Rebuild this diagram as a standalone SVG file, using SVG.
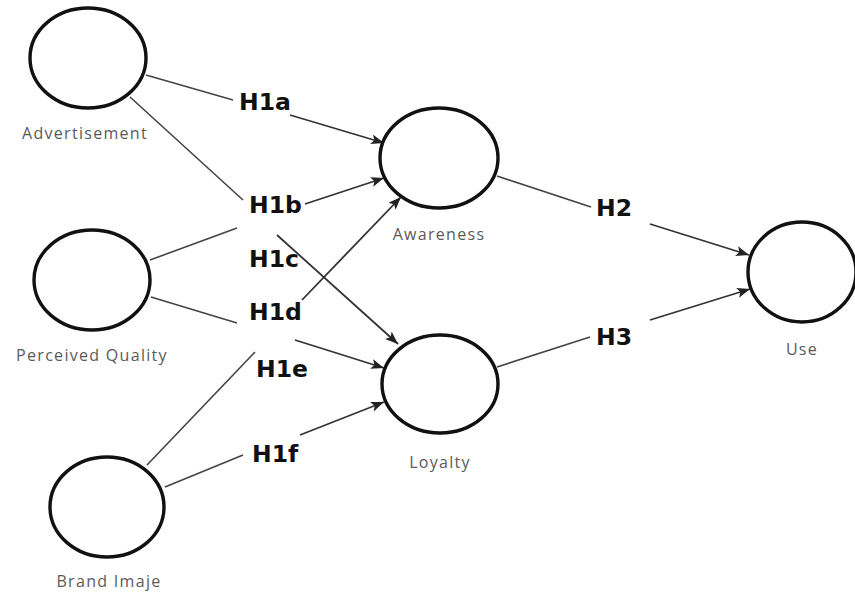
<svg xmlns="http://www.w3.org/2000/svg" width="855" height="594" viewBox="0 0 855 594">
<defs>
<style>
.node{fill:#fff;stroke:#111;stroke-width:3.4}
.lbl{font-family:"Open Sans","Noto Sans",sans-serif;font-size:16px;fill:#5a5a5a;text-anchor:middle;letter-spacing:1.3px}
.h{font-family:"DejaVu Sans",sans-serif;font-weight:bold;font-size:23.5px;fill:#111}
.ln{stroke:#444;stroke-width:1.6;fill:none}
.ar{stroke:#333;stroke-width:1.8;fill:none;marker-end:url(#ah)}
</style>
<marker id="ah" markerUnits="userSpaceOnUse" markerWidth="14" markerHeight="12" refX="13" refY="5" orient="auto">
<path d="M0,0 L13,5 L0,10 L3,5 z" fill="#222"/>
</marker>
</defs>
<rect width="855" height="594" fill="#fff"/>
<g id="connectors">
<line class="ln" x1="146" y1="75" x2="233" y2="100"/>
<line class="ar" x1="290" y1="115" x2="384" y2="143"/>
<line class="ln" x1="130" y1="97" x2="243" y2="200"/>
<line class="ar" x1="305" y1="204" x2="384" y2="178"/>
<line class="ln" x1="150" y1="260" x2="237" y2="228"/>
<line class="ar" x1="302" y1="300" x2="401" y2="197"/>
<line class="ar" x1="277" y1="235" x2="398" y2="344"/>
<line class="ln" x1="151" y1="297" x2="237" y2="323"/>
<line class="ar" x1="295" y1="340" x2="384" y2="368"/>
<line class="ln" x1="147" y1="465" x2="255" y2="352"/>
<line class="ln" x1="165" y1="487" x2="243" y2="455"/>
<line class="ar" x1="300" y1="435" x2="384" y2="402"/>
<line class="ln" x1="497" y1="176" x2="591" y2="207"/>
<line class="ar" x1="650" y1="224" x2="749" y2="255"/>
<line class="ln" x1="497" y1="367" x2="590" y2="337"/>
<line class="ar" x1="650" y1="320" x2="750" y2="289"/>
</g>
<g id="advertisement"><ellipse class="node" cx="88" cy="58" rx="58" ry="50"/><text class="lbl" x="85" y="139">Advertisement</text></g>
<g id="perceived-quality"><ellipse class="node" cx="92" cy="280" rx="58" ry="50"/><text class="lbl" x="92" y="361">Perceived Quality</text></g>
<g id="brand-imaje"><ellipse class="node" cx="107" cy="507" rx="57" ry="50"/><text class="lbl" x="109" y="587">Brand Imaje</text></g>
<g id="awareness"><ellipse class="node" cx="439" cy="158" rx="59" ry="50"/><text class="lbl" x="439" y="240">Awareness</text></g>
<g id="loyalty"><ellipse class="node" cx="440" cy="384" rx="58" ry="49"/><text class="lbl" x="440" y="468">Loyalty</text></g>
<g id="use"><ellipse class="node" cx="802" cy="272" rx="54" ry="50"/><text class="lbl" x="802" y="355">Use</text></g>
<g id="hyp-labels">
<text class="h" x="239" y="110">H1a</text>
<text class="h" x="249" y="213">H1b</text>
<text class="h" x="249" y="267">H1c</text>
<text class="h" x="249" y="320">H1d</text>
<text class="h" x="256" y="377">H1e</text>
<text class="h" x="252" y="462">H1f</text>
<text class="h" x="596" y="216">H2</text>
<text class="h" x="596" y="345">H3</text>
</g>
</svg>
